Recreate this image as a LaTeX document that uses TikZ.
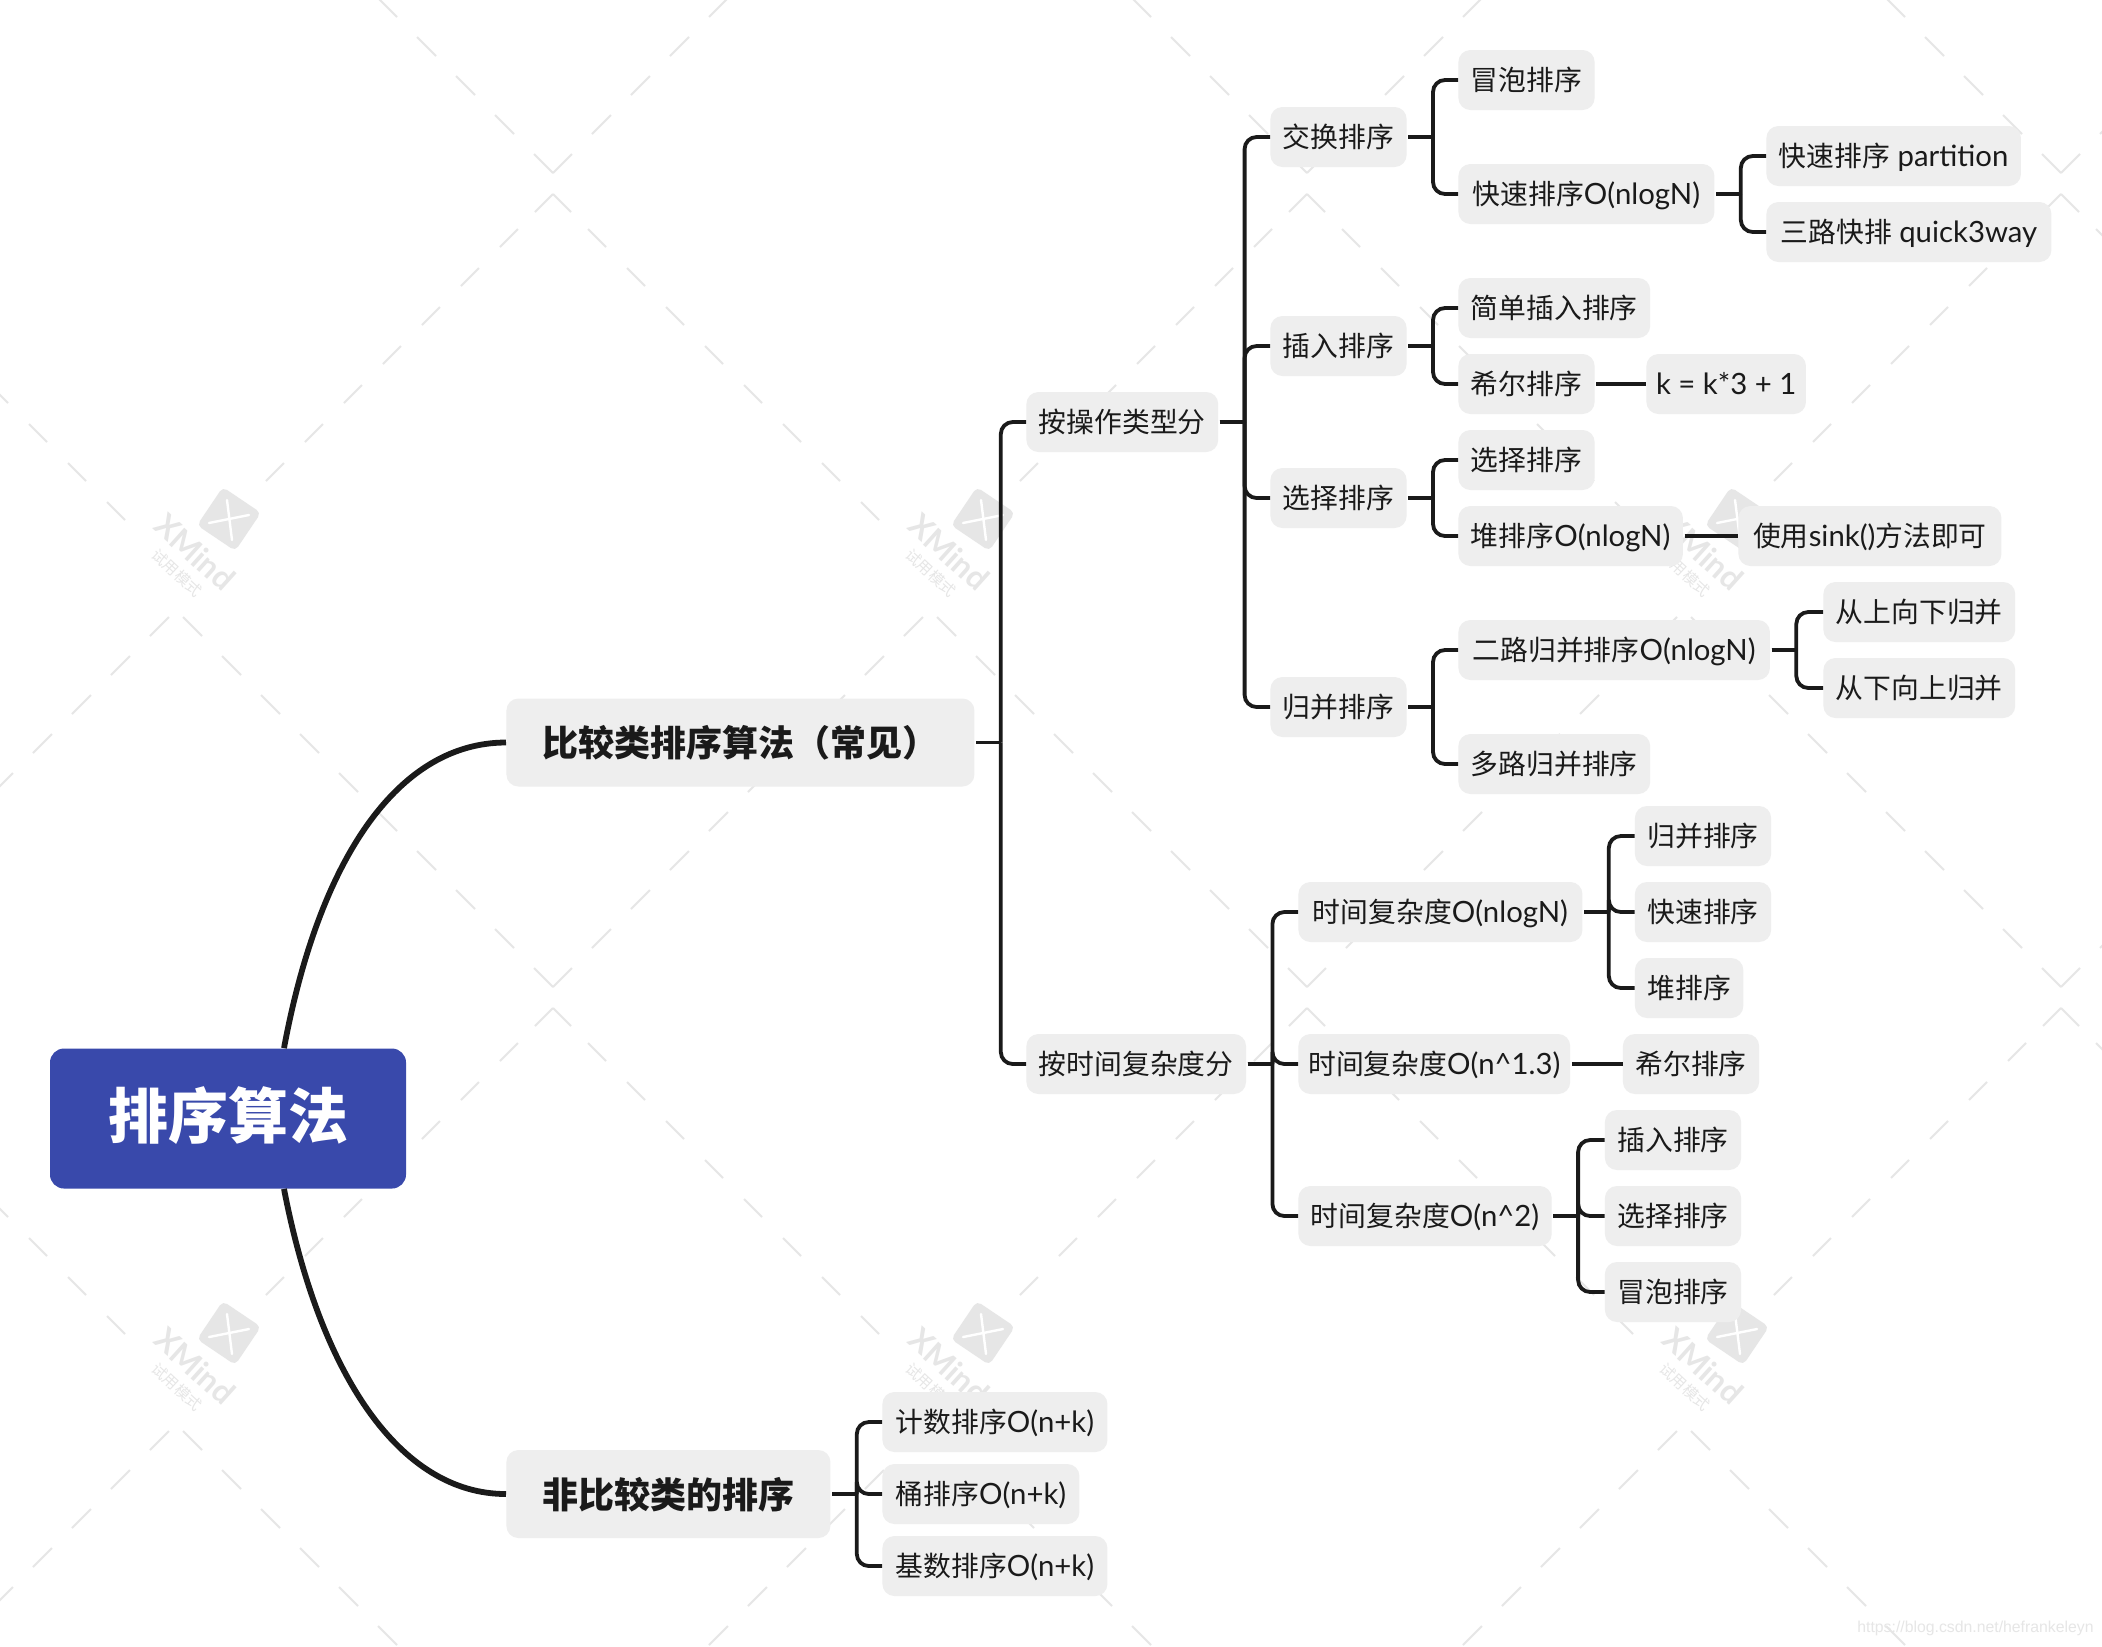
\documentclass[tikz,border=0pt]{standalone}
\usepackage{fontspec}
\setmainfont[Scale=1.055]{Lato}
\newfontfamily\cjk{Noto Sans CJK SC}
\newfontfamily\urlfont{Liberation Sans}
\newcommand{\zh}[1]{{\cjk #1}}
\usetikzlibrary{calc}
\definecolor{inkc}{HTML}{1A1A1A}
\definecolor{boxc}{HTML}{EEEEEE}
\definecolor{rootc}{HTML}{3949AB}
\definecolor{markc}{HTML}{E6E6E6}
\tikzset{
  topic/.style={anchor=west,fill=boxc,rounded corners=6pt,text=inkc,inner xsep=6.25pt,inner ysep=0pt,
    minimum height=30pt,text height=11.5pt,text depth=1.5pt,font=\fontsize{13.9}{16}\selectfont},
  maintopic/.style={anchor=west,fill=boxc,rounded corners=6pt,text=inkc,inner xsep=18pt,inner ysep=0pt,
    minimum height=44pt,text height=15.5pt,text depth=1.5pt,font=\fontsize{18}{20}\selectfont\bfseries},
  roottopic/.style={fill=rootc,rounded corners=7pt,text=white,minimum width=178pt,minimum height=70pt,
    text height=27pt,text depth=6.6pt,font=\fontsize{30}{32}\selectfont\bfseries},
  link/.style={draw=inkc,line width=1.9pt,rounded corners=6pt},
  stem/.style={draw=inkc,line width=1.9pt,shorten <=0.6pt},
  mainlink/.style={draw=inkc,line width=2.9pt},
  markdash/.style={draw=markc,line width=1pt},
  marksquare/.style={fill=markc,rounded corners=2.5pt,minimum size=23pt,inner sep=0pt,rotate=-34},
}
\begin{document}
\begin{tikzpicture}[x=0.5pt,y=-0.5pt]
\path[use as bounding box,fill=white] (0,0) rectangle (2102,1646);
\clip (0,0) rectangle (2102,1646);
% Watermark lattice
\foreach \i in {-1,...,2} {
  \foreach \j in {0,1,2} {
    \pgfmathsetmacro{\vx}{553+754*\i}
    \pgfmathsetmacro{\vy}{173+814*\j}
    \foreach \k in {0,...,9} {
      \draw[markdash] (\vx-39*\k,\vy-39*\k) -- ++(-19,-19);
      \draw[markdash] (\vx+39*\k,\vy-39*\k) -- ++(19,-19);
    }
    \foreach \k in {0,...,7} {
      \pgfmathsetmacro{\d}{max(39*\k-4,0)}
      \draw[markdash] (\vx-\d,\vy+21+\d) -- ++(-18,18);
    }
    \foreach \k in {0,...,8} {
      \pgfmathsetmacro{\d}{max(39*\k-4,0)}
      \draw[markdash] (\vx+\d,\vy+21+\d) -- ++(18,18);
    }
  }
}
% Watermark logos
\foreach \i in {0,1,2} {
  \foreach \j in {0,1} {
    \pgfmathsetmacro{\lx}{229+754*\i}
    \pgfmathsetmacro{\ly}{519+814*\j}
    \node[marksquare] (logo\i\j) at (\lx,\ly) {};
    \draw[white,line width=1.2pt,line cap=round] (\lx-2,\ly-19) -- (\lx+3,\ly+21);
    \draw[white,line width=1.2pt,line cap=round] (\lx-20,\ly+4) -- (\lx+20,\ly-4);
    \node[rotate=-42,text=markc,font=\fontsize{15}{16}\selectfont\bfseries] (brand\i\j) at (\lx-34,\ly+33) {XMind};
    \node[rotate=-43,text=markc,font=\fontsize{7.6}{8}\selectfont] (trial\i\j) at (\lx-52,\ly+54) {\zh{试用模式}};
  }
}
\node[text=markc,font=\fontsize{7.9}{10}\selectfont\urlfont,anchor=east,inner sep=0pt] (source) at (2094,1628) {https://blog.csdn.net/hefrankeleyn};
% Root and main topics
\node[roottopic] (root) at (228,1118.5) {\zh{排序算法}};
\node[maintopic] (cmp) at (506,742.5) {\zh{比较类排序算法（常见）}};
\node[maintopic] (noncmp) at (506,1494) {\zh{非比较类的排序}};
% Comparison sorts, by operation
\node[topic] (byop) at (1026,422) {\zh{按操作类型分}};
\node[topic] (swap) at (1270,137) {\zh{交换排序}};
\node[topic] (bubble) at (1458,80) {\zh{冒泡排序}};
\node[topic,minimum width=128pt] (quick) at (1458,194) {\zh{快速排序}O(nlogN)};
\node[topic] (qpart) at (1766,156) {\zh{快速排序} partition};
\node[topic,minimum width=142.5pt] (qway) at (1766,232) {\zh{三路快排} quick3way};
\node[topic] (insert) at (1270,346) {\zh{插入排序}};
\node[topic] (simple) at (1458,308) {\zh{简单插入排序}};
\node[topic] (shell) at (1458,384) {\zh{希尔排序}};
\node[topic,inner xsep=4.8pt] (gap) at (1646,384) {k = k*3 + 1};
\node[topic] (select) at (1270,498) {\zh{选择排序}};
\node[topic] (selsort) at (1458,460) {\zh{选择排序}};
\node[topic] (heap) at (1458,536) {\zh{堆排序}O(nlogN)};
\node[topic,minimum width=131.5pt] (sink) at (1738,536) {\zh{使用}sink()\zh{方法即可}};
\node[topic] (merge) at (1270,707) {\zh{归并排序}};
\node[topic,minimum width=155.75pt] (twoway) at (1458,650) {\zh{二路归并排序}O(nlogN)};
\node[topic] (topdown) at (1823,612) {\zh{从上向下归并}};
\node[topic] (bottomup) at (1823,688) {\zh{从下向上归并}};
\node[topic] (multi) at (1458,764) {\zh{多路归并排序}};
% Comparison sorts, by time complexity
\node[topic] (bytime) at (1026,1064) {\zh{按时间复杂度分}};
\node[topic,minimum width=142pt] (tlog) at (1298,912) {\zh{时间复杂度}O(nlogN)};
\node[topic] (tlogm) at (1634.5,836) {\zh{归并排序}};
\node[topic] (tlogq) at (1634.5,912) {\zh{快速排序}};
\node[topic] (tlogh) at (1634.5,988) {\zh{堆排序}};
\node[topic,inner xsep=4.9pt] (tmid) at (1298,1064) {\zh{时间复杂度}O(n\textasciicircum 1.3)};
\node[topic] (tmids) at (1622.5,1064) {\zh{希尔排序}};
\node[topic] (tsq) at (1298,1216) {\zh{时间复杂度}O(n\textasciicircum 2)};
\node[topic] (tsqi) at (1604.5,1140) {\zh{插入排序}};
\node[topic] (tsqs) at (1604.5,1216) {\zh{选择排序}};
\node[topic] (tsqb) at (1604.5,1292) {\zh{冒泡排序}};
% Non-comparison sorts
\node[topic,minimum width=112.5pt] (count) at (882,1422) {\zh{计数排序}O(n+k)};
\node[topic,minimum width=98.5pt] (bucket) at (882,1494) {\zh{桶排序}O(n+k)};
\node[topic,minimum width=112.5pt] (radix) at (882,1566) {\zh{基数排序}O(n+k)};
% Curved main branches
\draw[mainlink] ($(root.north)+(56,0)$) .. controls (320,855) and (400,742.5) .. (cmp.west);
\draw[mainlink] ($(root.south)+(56,0)$) .. controls (320,1375) and (400,1494) .. (noncmp.west);
% Elbow branches
\foreach \p/\c in {cmp/byop,cmp/bytime,noncmp/count,noncmp/bucket,noncmp/radix,
  byop/swap,byop/insert,byop/select,byop/merge,swap/bubble,swap/quick,quick/qpart,quick/qway,
  insert/simple,insert/shell,select/selsort,select/heap,merge/twoway,merge/multi,
  twoway/topdown,twoway/bottomup,bytime/tlog,bytime/tmid,bytime/tsq,
  tlog/tlogm,tlog/tlogq,tlog/tlogh,tsq/tsqi,tsq/tsqs,tsq/tsqb} {
  \draw[stem] (\p.east) -- ++(26,0);
  \draw[link] ($(\p.east)+(26,0)$) |- (\c.west);
}
% Straight branches
\foreach \p/\c in {shell/gap,heap/sink,tmid/tmids} {
  \draw[stem] (\p.east) -- (\c.west);
}
\end{tikzpicture}
\end{document}
